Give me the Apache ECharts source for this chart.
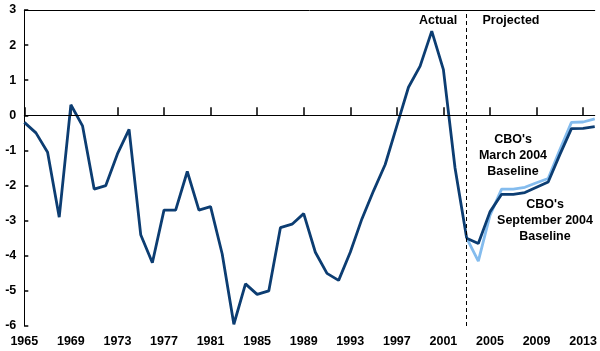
<!DOCTYPE html>
<html><head><meta charset="utf-8">
<script src="https://cdn.jsdelivr.net/npm/echarts@6/dist/echarts.min.js"></script>
<style>html,body{margin:0;padding:0;background:#fff}#c{width:600px;height:351px}</style>
</head><body><div id="c"></div>
<script>
const years = [];
for (let y = 1965; y <= 2014; y++) years.push(String(y));
const actualYears = ['1965','1966','1967','1968','1969','1970','1971','1972','1973','1974','1975','1976','1977','1978','1979','1980','1981','1982','1983','1984','1985','1986','1987','1988','1989','1990','1991','1992','1993','1994','1995','1996','1997','1998','1999','2000','2001','2002','2003'];
const actual = [-0.2,-0.5,-1.05,-2.9,0.3,-0.3,-2.1,-2.0,-1.1,-0.4,-3.4,-4.2,-2.7,-2.7,-1.6,-2.7,-2.6,-3.95,-5.95,-4.8,-5.1,-5.0,-3.2,-3.1,-2.8,-3.9,-4.5,-4.7,-3.9,-2.95,-2.15,-1.4,-0.3,0.8,1.4,2.4,1.3,-1.5,-3.5];
const projYears = ['2003','2004','2005','2006','2007','2008','2009','2010','2011','2012','2013','2014'];
const sep2004 = [-3.5,-3.65,-2.75,-2.25,-2.25,-2.2,-2.05,-1.9,-1.12,-0.38,-0.37,-0.32];
const mar2004 = [-3.5,-4.15,-2.85,-2.1,-2.1,-2.05,-1.92,-1.8,-0.98,-0.2,-0.19,-0.1];
const yTicks = [-6,-5,-4,-3,-2,-1,0,1,2,3];

function align(keys, vals) {
  const m = {}; keys.forEach((k, i) => m[k] = vals[i]);
  return years.map(y => (y in m ? m[y] : null));
}

const FONT = 'Liberation Sans, Arial, sans-serif';
const FS = 12.5;
const chart = echarts.init(document.getElementById('c'), null, {renderer: 'canvas'});
chart.setOption({
  animation: false,
  grid: {left: 24.3, right: 3.7, top: 10, bottom: 25, containLabel: false},
  xAxis: [{
    type: 'category', data: years, boundaryGap: false,
    axisLine: {lineStyle: {color: '#000', width: 1}},
    axisTick: {inside: true, length: 8, interval: 3, lineStyle: {color: '#000', width: 1.5}},
    axisLabel: {interval: 3, margin: 9, color: '#000', fontFamily: FONT, fontWeight: 'bold', fontSize: FS},
    splitLine: {show: false}
  }, {
    type: 'category', data: years, boundaryGap: false, position: 'top',
    axisLine: {show: true, lineStyle: {color: '#000', width: 1}},
    axisTick: {show: false}, axisLabel: {show: false}
  }],
  yAxis: {
    type: 'value', min: -6, max: 3, interval: 1,
    axisLine: {show: true, lineStyle: {color: '#000', width: 1}},
    axisTick: {show: true, inside: true, length: 4, lineStyle: {color: '#000', width: 1.5}},
    axisLabel: {margin: 8, color: '#000', fontFamily: FONT, fontWeight: 'bold', fontSize: FS,
      formatter: v => yTicks.includes(v) ? String(v) : ''},
    splitLine: {show: false}
  },
  series: [
    {
      type: 'line', data: align(projYears, mar2004), symbol: 'none', connectNulls: false,
      lineStyle: {color: '#84bcee', width: 2.8}, z: 2
    },
    {
      type: 'line', data: align(projYears, sep2004), symbol: 'none',
      lineStyle: {color: '#0c3d72', width: 2.8}, z: 3
    },
    {
      type: 'line', data: align(actualYears, actual), symbol: 'none',
      lineStyle: {color: '#0c3d72', width: 2.8}, z: 4,
      markLine: {
        silent: true, symbol: 'none', label: {show: false},
        data: [
          {yAxis: 0, lineStyle: {color: '#000', width: 1, type: 'solid'}},
          {xAxis: '2003', lineStyle: {color: '#000', width: 1, type: [4, 3]}}
        ]
      }
    }
  ],
  graphic: [
    {type: 'text', x: 438, y: 21, style: {text: 'Actual', font: 'bold ' + FS + 'px ' + FONT, fill: '#000', align: 'center', verticalAlign: 'middle'}},
    {type: 'text', x: 511, y: 21, style: {text: 'Projected', font: 'bold ' + FS + 'px ' + FONT, fill: '#000', align: 'center', verticalAlign: 'middle'}},
    {type: 'text', x: 513, y: 132, style: {text: "CBO's\nMarch 2004\nBaseline", font: 'bold ' + FS + 'px ' + FONT, fill: '#000', align: 'center', lineHeight: 16}},
    {type: 'text', x: 545, y: 197, style: {text: "CBO's\nSeptember 2004\nBaseline", font: 'bold ' + FS + 'px ' + FONT, fill: '#000', align: 'center', lineHeight: 16}}
  ]
});
</script></body></html>
